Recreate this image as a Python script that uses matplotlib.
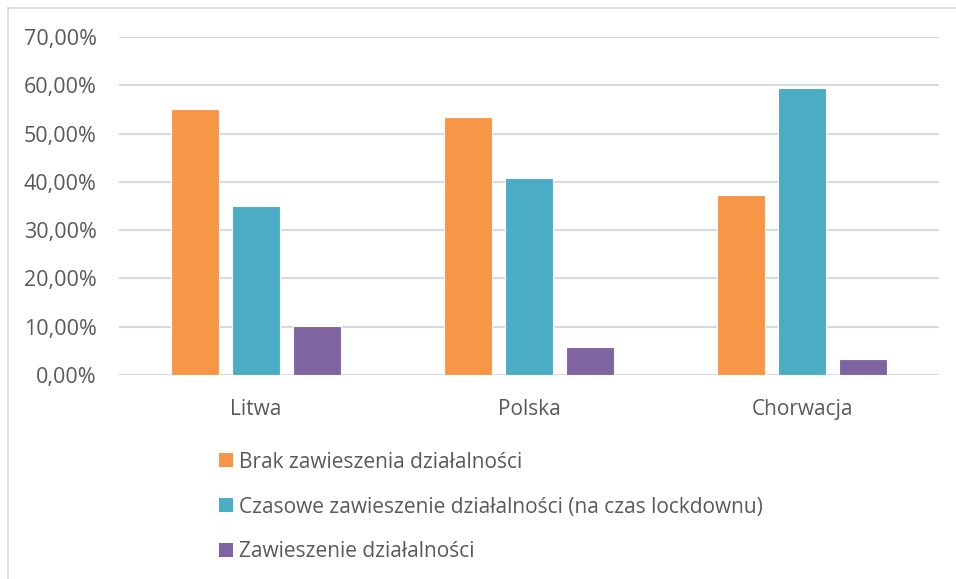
import numpy as np
import matplotlib.pyplot as plt
from matplotlib.patches import Patch
from matplotlib.lines import Line2D
from matplotlib.ticker import FuncFormatter

plt.rcParams['font.family'] = ['Open Sans', 'DejaVu Sans']

# data (shares of firms)
countries = ['Litwa', 'Polska', 'Chorwacja']
series_names = [
    'Brak zawieszenia działalności',
    'Czasowe zawieszenie działalności (na czas lockdownu)',
    'Zawieszenie działalności',
]
no_suspension = [0.550, 0.534, 0.373]
temp_suspension = [0.350, 0.407, 0.595]
suspension = [0.101, 0.058, 0.033]
series_colors = ['#F79646', '#4BACC6', '#8064A2']

text_color = '#595959'
grid_color = '#D9D9D9'

fig = plt.figure(figsize=(9.56, 5.79), dpi=100)
ax = fig.add_axes([119 / 956, 1 - 375 / 579, (939 - 119) / 956, (375 - 37) / 579])

x = np.arange(len(countries))
pitch = 0.223
width = 0.176
all_series = [no_suspension, temp_suspension, suspension]
for i, (vals, col) in enumerate(zip(all_series, series_colors)):
    ax.bar(x + (i - 1) * pitch, vals, width, color=col,
           edgecolor='white', linewidth=0.8, zorder=3)

ax.set_xlim(-0.5, 2.5)
ax.set_ylim(0, 0.7)
ax.set_yticks(np.arange(0, 0.71, 0.1))
ax.yaxis.set_major_formatter(FuncFormatter(lambda v, p: f'{v * 100:.2f}%'.replace('.', ',')))
ax.set_xticks(x)
ax.set_xticklabels(countries)
ax.tick_params(axis='both', length=0, colors=text_color)
ax.tick_params(axis='y', pad=16, labelsize=15.5)
ax.tick_params(axis='x', pad=17, labelsize=15)
ax.grid(axis='y', color=grid_color, linewidth=1.5, zorder=0)
for s in ax.spines.values():
    s.set_visible(False)

# legend below plot, stacked vertically
handles = [Patch(facecolor=c, edgecolor='none') for c in series_colors]
leg = fig.legend(handles, series_names, loc='center left',
                 bbox_to_anchor=(219 / 956, 1 - 507 / 579),
                 bbox_transform=fig.transFigure, frameon=False,
                 fontsize=15, labelcolor=text_color,
                 handlelength=0.65, handleheight=0.65, handletextpad=0.3,
                 labelspacing=1.15, borderpad=0, borderaxespad=0)

# chart frame (top and left edges visible)
fig.add_artist(Line2D([8 / 956, 1.0], [1 - 8 / 579, 1 - 8 / 579],
                      transform=fig.transFigure, color=grid_color, linewidth=1.2))
fig.add_artist(Line2D([8 / 956, 8 / 956], [0.0, 1 - 8 / 579],
                      transform=fig.transFigure, color=grid_color, linewidth=1.2))

fig.savefig('out.png', dpi=100)
